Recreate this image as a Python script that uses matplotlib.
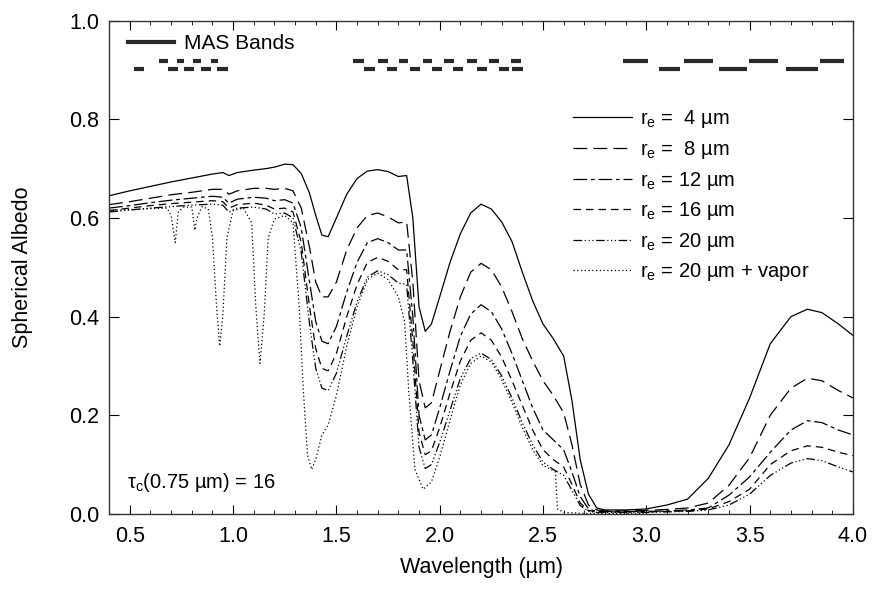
import numpy as np
import matplotlib
matplotlib.use("Agg")
import matplotlib.pyplot as plt
from matplotlib.lines import Line2D
from matplotlib.ticker import MultipleLocator

plt.rcParams['font.family'] = ['Liberation Sans', 'DejaVu Sans']
plt.rcParams['mathtext.fontset'] = 'custom'
plt.rcParams['mathtext.rm'] = 'Liberation Sans'

# wavelength grid (um) shared by the five cloud curves
wl = [0.40, 0.50, 0.60, 0.70, 0.80, 0.90, 0.95, 0.98, 1.02, 1.10, 1.16, 1.20, 1.25, 1.29,
      1.33, 1.37, 1.40, 1.43, 1.46, 1.50, 1.55, 1.60, 1.65, 1.70, 1.75, 1.80, 1.84, 1.87,
      1.90, 1.93, 1.96, 2.00, 2.05, 2.10, 2.15, 2.20, 2.25, 2.30, 2.35, 2.40, 2.45, 2.50,
      2.55, 2.60, 2.64, 2.68, 2.72, 2.76, 2.80, 2.90, 3.00, 3.10, 3.20, 3.30, 3.40, 3.50,
      3.60, 3.70, 3.78, 3.85, 3.93, 4.00]

re4 = [0.645, 0.655, 0.664, 0.673, 0.681, 0.689, 0.692, 0.686, 0.692, 0.697, 0.700, 0.703,
       0.709, 0.708, 0.690, 0.650, 0.605, 0.565, 0.562, 0.600, 0.648, 0.680, 0.695, 0.698,
       0.694, 0.684, 0.686, 0.600, 0.420, 0.370, 0.385, 0.440, 0.510, 0.568, 0.610, 0.628,
       0.618, 0.592, 0.552, 0.490, 0.432, 0.385, 0.355, 0.320, 0.230, 0.110, 0.040, 0.012,
       0.008, 0.008, 0.010, 0.018, 0.030, 0.072, 0.140, 0.235, 0.345, 0.400, 0.415, 0.408,
       0.385, 0.362]
re8 = [0.627, 0.633, 0.640, 0.647, 0.652, 0.658, 0.658, 0.648, 0.655, 0.660, 0.660, 0.658,
       0.660, 0.655, 0.620, 0.540, 0.470, 0.440, 0.440, 0.470, 0.535, 0.580, 0.605, 0.610,
       0.602, 0.590, 0.592, 0.470, 0.270, 0.215, 0.225, 0.290, 0.370, 0.440, 0.490, 0.508,
       0.495, 0.460, 0.410, 0.355, 0.310, 0.270, 0.240, 0.205, 0.140, 0.060, 0.018, 0.008,
       0.006, 0.006, 0.007, 0.009, 0.012, 0.022, 0.058, 0.114, 0.200, 0.255, 0.275, 0.270,
       0.250, 0.235]
re12 = [0.620, 0.625, 0.631, 0.636, 0.640, 0.644, 0.642, 0.630, 0.638, 0.642, 0.640, 0.635,
        0.637, 0.630, 0.580, 0.470, 0.390, 0.350, 0.345, 0.380, 0.450, 0.510, 0.550, 0.558,
        0.550, 0.535, 0.535, 0.400, 0.200, 0.150, 0.160, 0.215, 0.290, 0.360, 0.405, 0.424,
        0.410, 0.375, 0.325, 0.270, 0.215, 0.170, 0.150, 0.130, 0.085, 0.035, 0.010, 0.005,
        0.005, 0.005, 0.005, 0.006, 0.008, 0.012, 0.038, 0.075, 0.125, 0.170, 0.189, 0.185,
        0.170, 0.160]
re16 = [0.615, 0.620, 0.625, 0.629, 0.632, 0.635, 0.633, 0.620, 0.627, 0.630, 0.626, 0.618,
        0.620, 0.612, 0.550, 0.420, 0.335, 0.295, 0.290, 0.325, 0.400, 0.465, 0.510, 0.520,
        0.512, 0.495, 0.495, 0.350, 0.165, 0.120, 0.128, 0.175, 0.245, 0.310, 0.352, 0.367,
        0.352, 0.318, 0.270, 0.220, 0.170, 0.130, 0.110, 0.095, 0.060, 0.022, 0.007, 0.004,
        0.004, 0.004, 0.004, 0.005, 0.006, 0.010, 0.025, 0.050, 0.100, 0.128, 0.138, 0.135,
        0.125, 0.118]
re20 = [0.612, 0.616, 0.620, 0.623, 0.626, 0.628, 0.626, 0.612, 0.620, 0.622, 0.618, 0.608,
        0.610, 0.600, 0.530, 0.385, 0.295, 0.255, 0.250, 0.285, 0.360, 0.430, 0.480, 0.493,
        0.485, 0.468, 0.465, 0.310, 0.135, 0.092, 0.100, 0.145, 0.210, 0.275, 0.315, 0.326,
        0.313, 0.280, 0.235, 0.185, 0.140, 0.105, 0.090, 0.078, 0.048, 0.017, 0.005, 0.003,
        0.003, 0.003, 0.003, 0.004, 0.005, 0.008, 0.018, 0.040, 0.078, 0.103, 0.112, 0.108,
        0.095, 0.085]

# r_e = 20 um with water vapor absorption (own grid, narrow bands)
wl_vap = [0.40, 0.50, 0.60, 0.68, 0.70, 0.72, 0.735, 0.76, 0.80, 0.815, 0.825, 0.85, 0.88,
          0.90, 0.92, 0.935, 0.95, 0.97, 1.00, 1.05, 1.09, 1.11, 1.13, 1.15, 1.17, 1.20,
          1.25, 1.29, 1.32, 1.34, 1.36, 1.38, 1.40, 1.43, 1.46, 1.50, 1.55, 1.60, 1.65,
          1.70, 1.75, 1.80, 1.83, 1.85, 1.88, 1.92, 1.96, 2.00, 2.05, 2.10, 2.15, 2.20,
          2.25, 2.30, 2.35, 2.40, 2.45, 2.50, 2.54, 2.56, 2.57, 2.60, 2.70, 2.80, 2.90, 3.00]
vapor = [0.615, 0.617, 0.619, 0.620, 0.605, 0.550, 0.612, 0.622, 0.622, 0.575, 0.600, 0.623,
         0.618, 0.560, 0.420, 0.340, 0.400, 0.560, 0.615, 0.620, 0.590, 0.420, 0.305, 0.400,
         0.560, 0.598, 0.605, 0.590, 0.420, 0.250, 0.120, 0.090, 0.110, 0.160, 0.180, 0.240,
         0.340, 0.420, 0.475, 0.488, 0.475, 0.440, 0.390, 0.250, 0.090, 0.050, 0.065, 0.115,
         0.190, 0.262, 0.305, 0.320, 0.308, 0.272, 0.226, 0.175, 0.130, 0.098, 0.090, 0.085,
         0.010, 0.003, 0.001, 0.001, 0.001, 0.001]

# MAS band edges (um), two staggered rows
mas_top_lo = [0.639, 0.727, 0.808, 0.892, 1.582, 1.700, 1.804, 1.917, 2.022, 2.130, 2.238,
              2.345, 2.885, 3.182, 3.496, 3.843]
mas_top_hi = [0.684, 0.764, 0.845, 0.929, 1.635, 1.748, 1.848, 1.961, 2.070, 2.179, 2.287,
              2.393, 3.009, 3.324, 3.638, 3.955]
mas_bot_lo = [0.522, 0.684, 0.764, 0.845, 0.921, 1.635, 1.743, 1.856, 1.961, 2.066, 2.179,
              2.287, 2.348, 3.062, 3.353, 3.675]
mas_bot_hi = [0.571, 0.735, 0.813, 0.893, 0.974, 1.687, 1.792, 1.904, 2.010, 2.114, 2.227,
              2.335, 2.404, 3.162, 3.488, 3.831]
mas_top_y = 0.918
mas_bot_y = 0.902

labels = [r"r$_\mathregular{e}$ =  4 µm", r"r$_\mathregular{e}$ =  8 µm",
          r"r$_\mathregular{e}$ = 12 µm", r"r$_\mathregular{e}$ = 16 µm",
          r"r$_\mathregular{e}$ = 20 µm", r"r$_\mathregular{e}$ = 20 µm + vapor"]
styles = ['-', (0, (11, 5)), (0, (11, 3, 3, 3)), (0, (6, 4)),
          (0, (7, 2, 1, 2, 1, 2, 1, 2)), (0, (1, 2))]

fig = plt.figure(figsize=(8.73, 5.9), dpi=100)
ax = fig.add_axes([0.125, 0.129, 0.852, 0.836])

series = [(wl, re4), (wl, re8), (wl, re12), (wl, re16), (wl, re20), (wl_vap, vapor)]
for (x, y), ls, lab in zip(series, styles, labels):
    ax.plot(x, y, color='black', lw=0.9, ls=ls, label=lab)

ax.hlines([mas_top_y] * len(mas_top_lo), mas_top_lo, mas_top_hi, color='#2a2a2a', lw=3)
ax.hlines([mas_bot_y] * len(mas_bot_lo), mas_bot_lo, mas_bot_hi, color='#2a2a2a', lw=3)

leg = ax.legend(loc='upper left', bbox_to_anchor=(0.623, 0.822), frameon=False,
                fontsize=14.5, handlelength=2.96, handletextpad=0.40, labelspacing=0.425,
                borderpad=0, borderaxespad=0)
ax.add_artist(leg)
key = Line2D([], [], color='#2a2a2a', lw=3)
ax.legend([key], ['MAS Bands'], loc='upper left', bbox_to_anchor=(0.025, 0.972),
          frameon=False, fontsize=15, handlelength=2.2, handletextpad=0.5,
          borderpad=0, borderaxespad=0)

ax.text(0.487, 0.063, r"τ$_\mathregular{c}$(0.75 µm) = 16", fontsize=14.5, va='center')

ax.set_xlim(0.4, 4.0)
ax.set_ylim(0.0, 1.0)
ax.xaxis.set_major_locator(MultipleLocator(0.5))
ax.xaxis.set_minor_locator(MultipleLocator(0.1))
ax.yaxis.set_major_locator(MultipleLocator(0.2))
ax.set_xticks([0.5, 1.0, 1.5, 2.0, 2.5, 3.0, 3.5, 4.0])
ax.set_xticklabels(['0.5', '1.0', '1.5', '2.0', '2.5', '3.0', '3.5', '4.0'])
ax.tick_params(which='both', direction='in', top=True, right=True, labelsize=15.5)
ax.tick_params(axis='x', which='major', length=6.5, pad=9)
ax.tick_params(axis='x', which='minor', length=3)
ax.tick_params(axis='y', which='major', length=7.5, pad=7)
ax.set_xlabel('Wavelength (µm)', fontsize=15.5, labelpad=7)
ax.set_ylabel('Spherical Albedo', fontsize=15.5, labelpad=26)
for s in ax.spines.values():
    s.set_linewidth(1.0)
    s.set_color('#333333')

fig.savefig('out.png', dpi=100)
